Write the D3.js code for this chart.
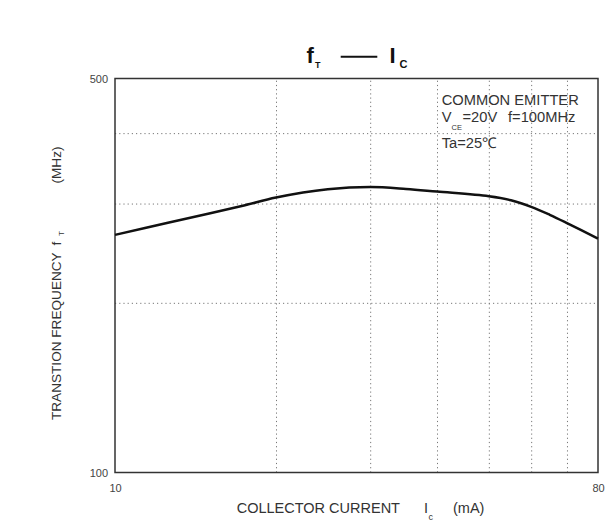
<!DOCTYPE html>
<html>
<head>
<meta charset="utf-8">
<script src="https://cdn.jsdelivr.net/npm/d3@7"></script>
<style>
  body { margin: 0; background: #fff; }
  svg { display: block; font-family: "Liberation Sans", Arial, sans-serif; }
  .tick text { fill: #444; font-size: 11px; }
  .grid line { stroke: #777; stroke-width: 1; stroke-dasharray: 1.2,3; }
  .grid .domain { display: none; }
  .lbl { fill: #333; }
</style>
</head>
<body>
<svg class="chart" width="605" height="528"></svg>
<script>
"use strict";

// collector current Ic (mA) and transition frequency fT (MHz)
var currents = [10, 12.5, 15, 17.5, 20, 25, 30, 35, 40, 50, 55, 60, 65, 70, 80];
var freqs = [264, 277, 288, 298, 307.5, 318, 321, 318.5, 315, 309, 304, 296, 286.5, 277, 260];

var xGrid = [20, 30, 40, 50, 60, 70];
var yGrid = [200, 300, 400];
var xTicks = [10, 80];
var yTicks = [100, 500];

var margin = {left: 115, right: 7, top: 78.5, bottom: 55.5};
var width = 605 - margin.left - margin.right;
var height = 528 - margin.top - margin.bottom;

var svg = d3.select('.chart');
var g = svg.append('g').attr('transform', 'translate(' + margin.left + ',' + margin.top + ')');

var x = d3.scaleLog().domain([10, 80]).range([0, width]);
var y = d3.scaleLog().domain([100, 500]).range([height, 0]);

// dotted grid
g.append('g')
  .attr('class', 'grid')
  .attr('transform', 'translate(0,' + height + ')')
  .call(d3.axisBottom(x).tickValues(xGrid).tickSize(-height).tickFormat(''));
g.append('g')
  .attr('class', 'grid')
  .call(d3.axisLeft(y).tickValues(yGrid).tickSize(-width).tickFormat(''));

// tick labels
g.append('g')
  .attr('transform', 'translate(0,' + height + ')')
  .call(d3.axisBottom(x).tickValues(xTicks).tickSize(0).tickPadding(12).tickFormat(d3.format('d')))
  .call(function (a) { a.select('.domain').remove(); });
g.append('g')
  .call(d3.axisLeft(y).tickValues(yTicks).tickSize(0).tickPadding(7).tickFormat(d3.format('d')))
  .call(function (a) { a.select('.domain').remove(); });

g.append('rect')
  .attr('width', width)
  .attr('height', height)
  .attr('fill', 'none')
  .attr('stroke', '#333')
  .attr('stroke-width', 1.5);

var line = d3.line()
  .x(function (d, i) { return x(currents[i]); })
  .y(function (d) { return y(d); })
  .curve(d3.curveCatmullRom.alpha(0.5));

g.append('path')
  .datum(freqs)
  .attr('d', line)
  .attr('fill', 'none')
  .attr('stroke', '#111')
  .attr('stroke-width', 2.5);

function txt(s, px, py, size, opts) {
  opts = opts || {};
  var t = svg.append('text')
    .attr('class', 'lbl')
    .attr('font-size', size + 'px')
    .text(s);
  if (opts.bold) { t.attr('font-weight', 'bold').style('fill', '#111'); }
  if (opts.rot) {
    t.attr('transform', 'translate(' + px + ',' + py + ') rotate(-90)');
  } else {
    t.attr('x', px).attr('y', py);
  }
  return t;
}

// title
txt('f', 306.5, 63.3, 22, {bold: true});
txt('T', 315, 67.7, 9, {bold: true});
svg.append('line')
  .attr('x1', 340.7).attr('x2', 377.3)
  .attr('y1', 56.7).attr('y2', 56.7)
  .attr('stroke', '#111')
  .attr('stroke-width', 2);
txt('I', 389.5, 63.3, 22, {bold: true});
txt('C', 399.5, 68.3, 11, {bold: true});

// conditions
txt('COMMON EMITTER', 441.7, 105, 14.7);
txt('V', 441.7, 121.7, 14.7);
txt('CE', 451.5, 129.5, 7.5);
txt('=20V', 462.5, 121.7, 14.7);
txt('f=100MHz', 508, 121.7, 14.7);
txt('Ta=25\u2103', 441.7, 148, 14.7);

// x axis title
txt('COLLECTOR CURRENT', 236.7, 513, 14.5);
txt('I', 424, 513, 14.5);
txt('c', 428.5, 519.5, 9);
txt('(mA)', 453, 513, 14.5);

// y axis title
txt('TRANSTION FREQUENCY', 61, 420, 13.6, {rot: true});
txt('f', 61, 245.5, 13.6, {rot: true});
txt('T', 64, 236, 8, {rot: true});
txt('(MHz)', 61, 183.5, 13.6, {rot: true});
</script>
</body>
</html>
